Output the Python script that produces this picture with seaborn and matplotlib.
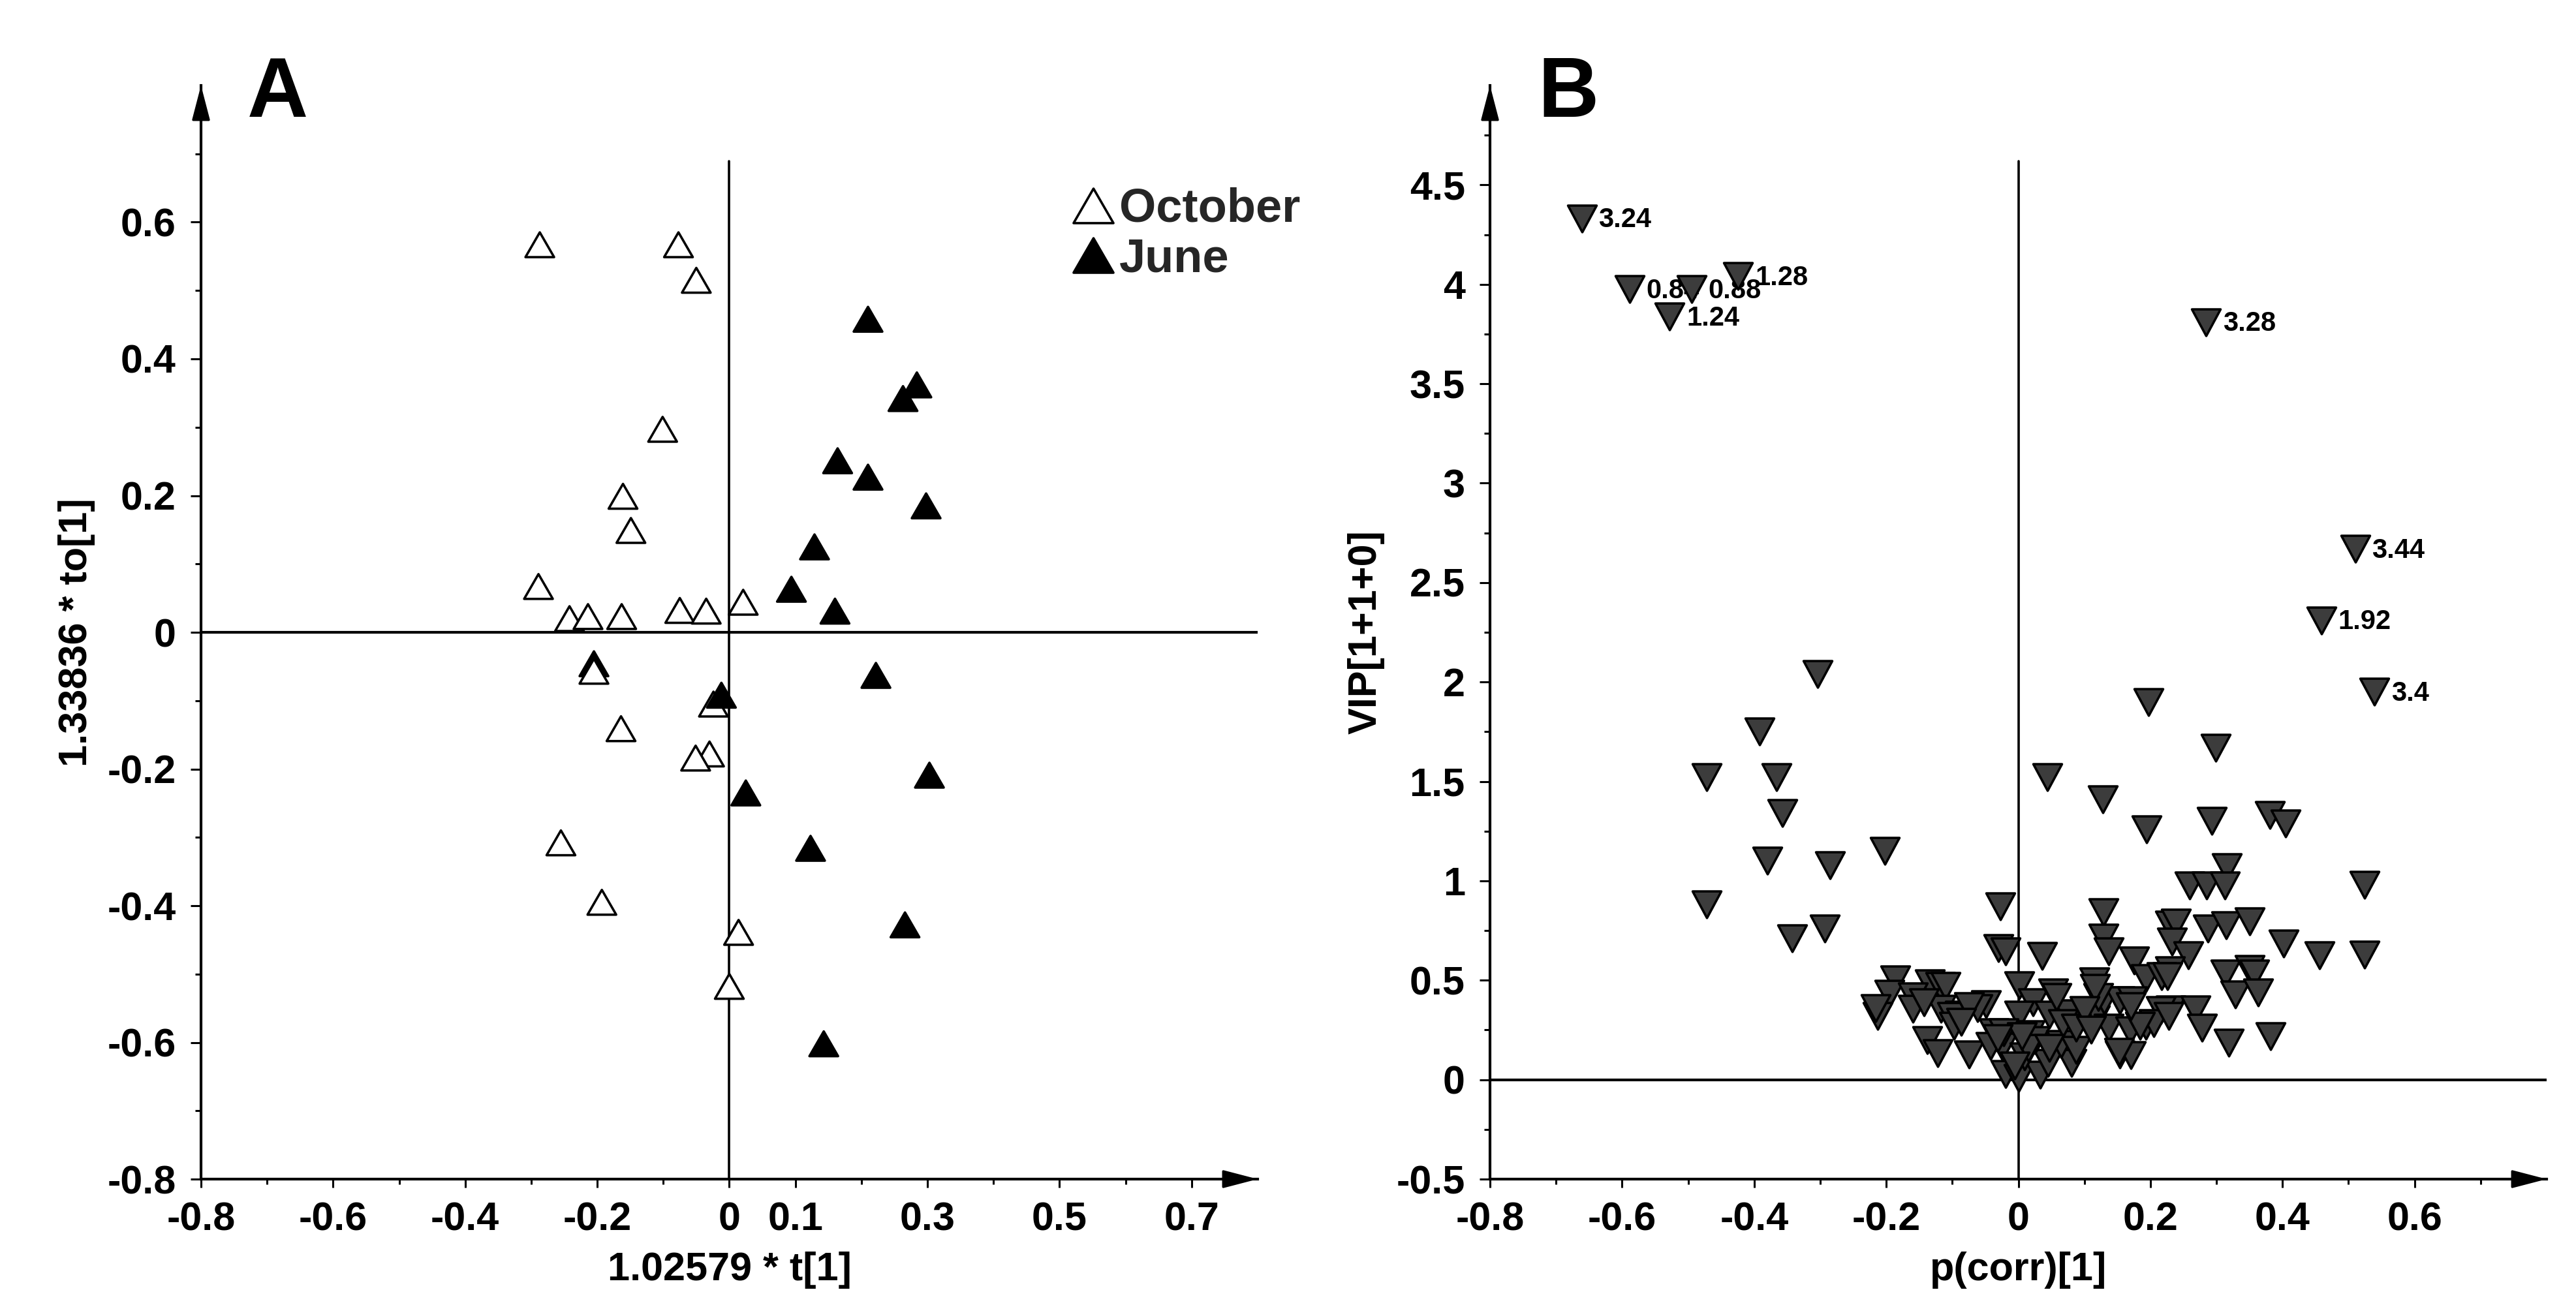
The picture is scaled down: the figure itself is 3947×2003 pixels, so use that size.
import numpy as np
import pandas as pd
import matplotlib
matplotlib.use("Agg")
import matplotlib.pyplot as plt
import seaborn as sns
from matplotlib.lines import Line2D
from matplotlib.path import Path

# ---------------- Panel A data (scores) ----------------
oct_x = [-0.287, -0.077, -0.050, -0.101, -0.161, -0.149, -0.289, -0.242, -0.214, -0.163,
         -0.075, -0.035, 0.021, -0.205, -0.024, -0.164, -0.030, -0.051, -0.255, -0.193,
         0.014, 0.000]
oct_y = [0.567, 0.567, 0.515, 0.297, 0.199, 0.149, 0.067, 0.020, 0.023, 0.023,
         0.032, 0.031, 0.044, -0.057, -0.105, -0.141, -0.178, -0.184, -0.308, -0.395,
         -0.439, -0.518]
jun_x = [-0.205, -0.012, 0.210, 0.284, 0.263, 0.164, 0.210, 0.298, 0.129, 0.094, 0.160,
         0.222, 0.303, 0.025, 0.123, 0.266, 0.143]
jun_y = [-0.046, -0.092, 0.458, 0.362, 0.342, 0.251, 0.227, 0.185, 0.125, 0.063, 0.031,
         -0.063, -0.209, -0.235, -0.316, -0.428, -0.602]

a_xticks = [-0.8, -0.6, -0.4, -0.2, 0.0, 0.1, 0.3, 0.5, 0.7]
a_xticklabels = ["-0.8", "-0.6", "-0.4", "-0.2", "0", "0.1", "0.3", "0.5", "0.7"]
a_xminor = [-0.7, -0.5, -0.3, -0.1, 0.2, 0.4, 0.6]
a_yticks = [-0.8, -0.6, -0.4, -0.2, 0.0, 0.2, 0.4, 0.6]
a_yticklabels = ["-0.8", "-0.6", "-0.4", "-0.2", "0", "0.2", "0.4", "0.6"]
a_yminor = [-0.7, -0.5, -0.3, -0.1, 0.1, 0.3, 0.5, 0.7]

# ---------------- Panel B data (VIP vs p(corr)) ----------------
vip_x = [-0.304, -0.392, -0.472, -0.366, -0.357, -0.202, -0.380, -0.285, -0.472, -0.293, -0.342,
         0.197, 0.299, 0.044, 0.128, 0.381, 0.293, 0.405, 0.194, 0.524, 0.524,
         0.316, 0.259, 0.285, 0.313, 0.129, 0.230, 0.239, 0.287, 0.315, 0.350,
         0.129, 0.233, 0.137, 0.402, 0.456, 0.257, 0.175, 0.230, 0.193, 0.217,
         0.314, 0.350, 0.357, 0.115, 0.329, 0.363, 0.231, 0.268, 0.216, 0.278,
         0.319, 0.382, 0.116, 0.137, 0.169, 0.193, 0.154, 0.170, 0.130, 0.154, 0.172,
         -0.027, -0.030, -0.019, 0.036, -0.186, -0.134, -0.118, -0.110, -0.195, -0.160,
         -0.213, -0.216, -0.160, -0.117, -0.088, -0.100, -0.049, -0.062, 0.001, 0.022,
         0.053, 0.001, 0.047, 0.086, -0.138, -0.122, -0.075, -0.024, -0.019, 0.000,
         0.033, 0.081, 0.009, 0.045, 0.017, 0.025, 0.065, 0.087, -0.037, 0.076,
         0.058, 0.068, 0.087, 0.015, -0.042, -0.022, 0.005, -0.075, -0.143, -0.097,
         0.121, 0.205, 0.184, 0.226, 0.116, 0.170, 0.228, 0.153, 0.047, -0.031,
         -0.086, 0.100, 0.110, -0.005]
vip_y = [2.04, 1.75, 1.52, 1.52, 1.34, 1.15, 1.10, 1.08, 0.88, 0.76, 0.71,
         1.90, 1.67, 1.52, 1.41, 1.33, 1.30, 1.29, 1.26, 0.98, 0.63,
         1.07, 0.978, 0.978, 0.978, 0.841, 0.781, 0.791, 0.759, 0.778, 0.797,
         0.715, 0.693, 0.644, 0.685, 0.627, 0.627, 0.600, 0.55, 0.512, 0.52,
         0.534, 0.556, 0.534, 0.495, 0.429, 0.438, 0.353, 0.353, 0.35, 0.26,
         0.185, 0.218, 0.304, 0.26, 0.249, 0.27, 0.128, 0.123, 0.40, 0.40, 0.40,
         0.872, 0.663, 0.644, 0.622, 0.505, 0.485, 0.47, 0.47, 0.433, 0.42,
         0.32, 0.36, 0.356, 0.356, 0.326, 0.32, 0.38, 0.36, 0.474, 0.39,
         0.44, 0.326, 0.326, 0.326, 0.198, 0.133, 0.128, 0.166, 0.03, 0.01,
         0.024, 0.084, 0.117, 0.084, 0.23, 0.20, 0.18, 0.15, 0.238, 0.335,
         0.414, 0.283, 0.26, 0.16, 0.17, 0.24, 0.22, 0.37, 0.39, 0.27,
         0.414, 0.283, 0.27, 0.52, 0.46, 0.37, 0.32, 0.14, 0.16, 0.21,
         0.29, 0.35, 0.25, 0.07]

lab_x = [-0.661, -0.589, -0.495, -0.424, -0.528, 0.284, 0.510, 0.459, 0.539]
lab_y = [4.332, 3.977, 3.977, 4.042, 3.837, 3.81, 2.67, 2.31, 1.95]
lab_text = ["3.24", "0.84", "0.88", "1.28", "1.24", "3.28", "3.44", "1.92", "3.4"]

b_xticks = [-0.8, -0.6, -0.4, -0.2, 0.0, 0.2, 0.4, 0.6]
b_xticklabels = ["-0.8", "-0.6", "-0.4", "-0.2", "0", "0.2", "0.4", "0.6"]
b_xminor = [-0.7, -0.5, -0.3, -0.1, 0.1, 0.3, 0.5, 0.7]
b_yticks = [-0.5, 0.0, 0.5, 1.0, 1.5, 2.0, 2.5, 3.0, 3.5, 4.0, 4.5]
b_yticklabels = ["-0.5", "0", "0.5", "1", "1.5", "2", "2.5", "3", "3.5", "4", "4.5"]
b_yminor = [-0.25, 0.25, 0.75, 1.25, 1.75, 2.25, 2.75, 3.25, 3.75, 4.25, 4.75]

# ---------------- styling ----------------
sns.set_theme(style="white")
plt.rcParams["font.family"] = ["Liberation Sans", "DejaVu Sans"]
plt.rcParams["font.weight"] = "bold"
plt.rcParams["axes.labelweight"] = "bold"

TRI_UP = Path([(0.0, 0.866), (-1.0, -0.866), (1.0, -0.866), (0.0, 0.866)], closed=True)
TRI_DOWN = Path([(0.0, -0.93), (-1.0, 0.93), (1.0, 0.93), (0.0, -0.93)], closed=True)

fig = plt.figure(figsize=(39.48, 20.03), dpi=100)
fig.patch.set_facecolor("white")
axA = fig.add_axes([0.07801, 0.09785, 0.41008, 0.83675])
axB = fig.add_axes([0.57827, 0.09785, 0.41008, 0.83675])


def style_axis(ax, xlim, ylim, xt, xtl, xmin, yt, ytl, ymin):
    ax.set_xlim(*xlim)
    ax.set_ylim(*ylim)
    ax.set_xticks(xt)
    ax.set_xticklabels(xtl)
    ax.set_xticks(xmin, minor=True)
    ax.set_yticks(yt)
    ax.set_yticklabels(ytl)
    ax.set_yticks(ymin, minor=True)
    ax.grid(False)
    for s in ["top", "right"]:
        ax.spines[s].set_visible(False)
    for s in ["left", "bottom"]:
        ax.spines[s].set_linewidth(3)
        ax.spines[s].set_color("black")
    ax.tick_params(axis="x", which="major", direction="out", length=9.5, width=2.2,
                   pad=15, labelsize=44, bottom=True, color="black", labelcolor="black")
    ax.tick_params(axis="x", which="minor", direction="out", length=6, width=2.2,
                   bottom=True, color="black")
    ax.tick_params(axis="y", which="major", direction="out", length=11.5, width=2.2,
                   pad=16, labelsize=44, left=True, color="black", labelcolor="black")
    ax.tick_params(axis="y", which="minor", direction="out", length=6.5, width=2.2,
                   left=True, color="black")
    for lab in ax.get_xticklabels() + ax.get_yticklabels():
        lab.set_fontweight("bold")
    # reference lines
    ax.axhline(0, color="black", lw=3, zorder=1)
    ax.axvline(0, ymin=0, ymax=0.931, color="black", lw=2.6, zorder=1)
    # arrow heads at axis ends
    ap = dict(arrowstyle="-|>,head_length=33,head_width=8.6", mutation_scale=1,
              color="black", lw=2.5, shrinkA=0, shrinkB=0)
    ax.annotate("", xy=(0, 1.0), xytext=(0, 0.95), xycoords="axes fraction",
                textcoords="axes fraction", arrowprops=ap)
    ax.annotate("", xy=(1.0, 0), xytext=(0.95, 0), xycoords="axes fraction",
                textcoords="axes fraction", arrowprops=ap)


# ---------------- Panel A ----------------
dfA = pd.DataFrame({
    "t": [jun_x[0]] + [oct_x[13]] + [oct_x[14]] + [jun_x[1]]
         + oct_x[:13] + oct_x[15:] + jun_x[2:],
    "to": [jun_y[0]] + [oct_y[13]] + [oct_y[14]] + [jun_y[1]]
          + oct_y[:13] + oct_y[15:] + jun_y[2:],
    "month": ["June", "October", "October", "June"]
             + ["October"] * 13 + ["October"] * (len(oct_x) - 15) + ["June"] * (len(jun_x) - 2),
})
sns.scatterplot(data=dfA, x="t", y="to", hue="month",
                palette={"October": "white", "June": "black"},
                marker=TRI_UP, s=1000, edgecolor="black", linewidth=2.6,
                legend=False, zorder=3, ax=axA)
style_axis(axA, (-0.8, 0.8), (-0.8, 0.8), a_xticks, a_xticklabels, a_xminor,
           a_yticks, a_yticklabels, a_yminor)
axA.set_xlabel("1.02579 * t[1]", fontsize=44, fontweight="bold", color="black")
axA.set_ylabel("1.33836 * to[1]", fontsize=44, fontweight="bold", color="black")
axA.xaxis.set_label_coords(0.5, -0.066)
axA.yaxis.set_label_coords(-0.1, 0.5)

handles = [
    Line2D([], [], ls="none", marker=TRI_UP, ms=44, mfc="white", mec="black", mew=2.6),
    Line2D([], [], ls="none", marker=TRI_UP, ms=44, mfc="black", mec="black", mew=2.6),
]
axA.legend(handles, ["October", "June"], loc="upper left",
           bbox_to_anchor=(1643 / 3948, 1 - 287 / 2003), bbox_transform=fig.transFigure,
           frameon=False, borderpad=0, borderaxespad=0, handlelength=0.9,
           handletextpad=0.1, labelspacing=0.12,
           prop={"family": ["Liberation Sans", "DejaVu Sans"], "weight": "bold", "size": 52})

# ---------------- Panel B ----------------
dfB = pd.DataFrame({"pcorr": vip_x + lab_x, "vip": vip_y + lab_y})
sns.scatterplot(data=dfB, x="pcorr", y="vip", marker=TRI_DOWN, s=1000,
                color="#3c3c3c", edgecolor="black", linewidth=2.6,
                legend=False, zorder=3, ax=axB)
for x, y, t in zip(lab_x, lab_y, lab_text):
    axB.annotate(t, xy=(x, y), xytext=(18.5, -2), textcoords="offset points",
                 ha="left", va="center", fontsize=30, fontweight="bold",
                 color="black", zorder=2.5)
style_axis(axB, (-0.8, 0.8), (-0.5, 5.0), b_xticks, b_xticklabels, b_xminor,
           b_yticks, b_yticklabels, b_yminor)
axB.set_xlabel("p(corr)[1]", fontsize=44, fontweight="bold", color="black")
axB.set_ylabel("VIP[1+1+0]", fontsize=44, fontweight="bold", color="black")
axB.xaxis.set_label_coords(0.5, -0.066)
axB.yaxis.set_label_coords(-0.1, 0.5)

# ---------------- panel letters ----------------
fig.text(379 / 3948, 1 - 179 / 2003, "A", fontsize=93, fontweight="bold",
         ha="left", va="baseline", color="black")
fig.text(2356 / 3948, 1 - 179 / 2003, "B", fontsize=93, fontweight="bold",
         ha="left", va="baseline", color="black")

fig.savefig("out.png", dpi=100, facecolor="white")
